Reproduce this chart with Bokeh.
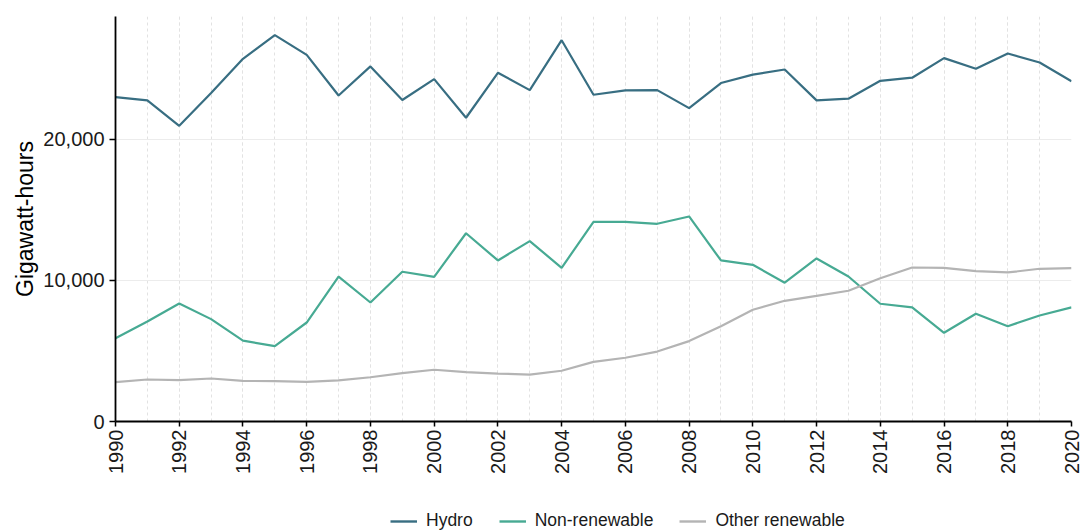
import math
from bokeh.plotting import figure
from bokeh.layouts import column
from bokeh.models import (ColumnDataSource, Legend, LegendItem, NumeralTickFormatter,
                          SingleIntervalTicker, FixedTicker, Range1d)
from bokeh.embed import file_html
from bokeh.resources import INLINE

years = list(range(1990, 2021))
hydro = [23000, 22770, 20970, 23300, 25720, 27400, 26000, 23120, 25180, 22800,
         24280, 21540, 24730, 23500, 27040, 23170, 23480, 23500, 22220, 24000,
         24600, 24960, 22770, 22890, 24160, 24380, 25770, 25010, 26100, 25460, 24130]
non_renewable = [5910, 7090, 8370, 7260, 5740, 5340, 7020, 10280, 8440, 10620,
                 10260, 13350, 11420, 12790, 10900, 14160, 14160, 14020, 14540, 11420,
                 11110, 9840, 11560, 10280, 8350, 8090, 6290, 7640, 6760, 7520, 8090]
other_renewable = [2790, 2980, 2930, 3050, 2880, 2860, 2810, 2910, 3140, 3430,
                   3670, 3500, 3400, 3330, 3600, 4230, 4520, 4960, 5700, 6760,
                   7920, 8560, 8910, 9270, 10160, 10920, 10900, 10660, 10570, 10830, 10870]
series_names = ["Hydro", "Non-renewable", "Other renewable"]
series_colors = ["#386e82", "#47aa93", "#b4b4b4"]
y_ticks = [0, 10000, 20000]

FONT = "Liberation Sans"

p = figure(frame_width=956, frame_height=405, min_border_left=115, min_border_right=9,
           min_border_top=16, min_border_bottom=70,
           x_range=Range1d(1990, 2020), y_range=Range1d(0, 28720),
           output_backend="svg", toolbar_location=None)
p.outline_line_color = None
p.background_fill_color = "white"
p.border_fill_color = "white"

src = ColumnDataSource(dict(year=years, hydro=hydro, nonren=non_renewable, other=other_renewable))
for col, color in zip(["hydro", "nonren", "other"], series_colors):
    p.line("year", col, source=src, line_color=color, line_width=2.2)

# axes
xa = p.xaxis[0]
xa.ticker = SingleIntervalTicker(interval=2, num_minor_ticks=2)
xa.major_label_orientation = math.pi / 2
xa.major_label_text_font = FONT
xa.major_label_text_font_size = "20px"
xa.major_label_text_color = "#1a1a1a"
xa.axis_line_color = "black"
xa.axis_line_width = 1.8
xa.major_tick_line_color = "black"
xa.major_tick_line_width = 1.5
xa.major_tick_out = 5
xa.major_tick_in = 0
xa.minor_tick_out = 0
xa.minor_tick_in = 0
xa.major_label_standoff = 3

ya = p.yaxis[0]
ya.ticker = FixedTicker(ticks=y_ticks)
ya.formatter = NumeralTickFormatter(format="0,0")
ya.major_label_text_font = FONT
ya.major_label_text_font_size = "20px"
ya.major_label_text_color = "#1a1a1a"
ya.axis_line_color = "black"
ya.axis_line_width = 1.8
ya.major_tick_line_color = "black"
ya.major_tick_line_width = 1.5
ya.major_tick_out = 6
ya.major_tick_in = 0
ya.minor_tick_out = 0
ya.major_label_standoff = 5
ya.axis_label = "Gigawatt-hours"
ya.axis_label_text_font = FONT
ya.axis_label_text_font_size = "23px"
ya.axis_label_text_font_style = "normal"
ya.axis_label_text_color = "black"
ya.axis_label_standoff = 2

# grids
p.ygrid.grid_line_color = "#ececec"
p.ygrid.grid_line_width = 1
p.xgrid.grid_line_color = "#e2e2e2"
p.xgrid.grid_line_dash = "3 3"
p.xgrid.grid_line_width = 1
p.xgrid.minor_grid_line_color = "#e2e2e2"
p.xgrid.minor_grid_line_dash = "3 3"
p.xgrid.minor_grid_line_width = 1

# legend in a strip below the chart
lg = figure(width=1080, height=40, min_border=0, x_range=Range1d(0, 1), y_range=Range1d(0, 1),
            x_axis_location=None, y_axis_location=None,
            output_backend="svg", toolbar_location=None)
lg.outline_line_color = None
lg.xgrid.visible = False
lg.ygrid.visible = False
items = []
for name, color in zip(series_names, series_colors):
    r = lg.line([-10], [-10], line_color=color, line_width=2.4)
    items.append(LegendItem(label=name, renderers=[r]))
legend = Legend(items=items, orientation="horizontal", location=(275, 0))
legend.label_text_font = FONT
legend.label_text_font_size = "17.5px"
legend.label_text_color = "#1a1a1a"
legend.glyph_width = 27
legend.glyph_height = 18
legend.label_height = 18
legend.label_standoff = 9
legend.spacing = 26
legend.padding = 0
legend.margin = 0
legend.border_line_color = None
legend.background_fill_alpha = 0
lg.add_layout(legend, "center")

layout = column(p, lg, spacing=0)
open("out.html", "w").write(file_html(layout, INLINE))
